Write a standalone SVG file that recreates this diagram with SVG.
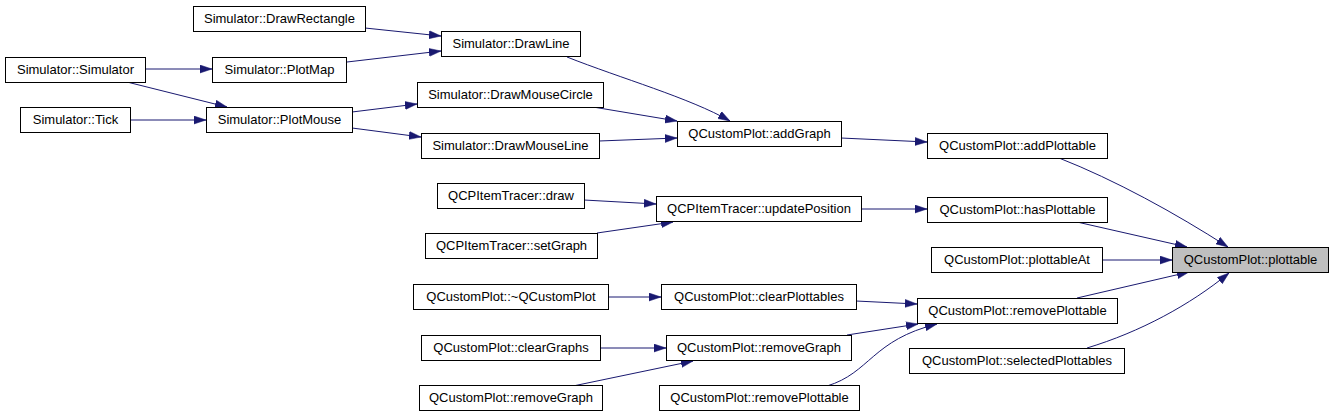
<svg xmlns="http://www.w3.org/2000/svg" width="1335" height="417" viewBox="0 0 1335 417">
<style>
.n rect{fill:#fff;stroke:#000;stroke-width:1}
.n.hl rect{fill:#bfbfbf}
.n text{font-family:"Liberation Sans",Arial,sans-serif;font-size:13px;text-anchor:middle;fill:#000}
.e path{fill:none;stroke:#191970;stroke-width:1;marker-end:url(#ah)}
</style>
<defs>
<marker id="ah" viewBox="0 0 12 9" refX="12" refY="4.5" markerWidth="12" markerHeight="9" orient="auto" markerUnits="userSpaceOnUse">
<polygon points="0,0.5 12,4.5 0,8.5" fill="#191970" stroke="#191970" stroke-width="0.5"/>
</marker>
</defs>
<rect width="1335" height="417" fill="#fff"/>
<g id="edges" class="e">
<path d="M365,28 L441,36"/>
<path d="M347,62 L441,51"/>
<path d="M145,69 L212,69"/>
<path d="M127,82 L227,107"/>
<path d="M130,120 L206,120"/>
<path d="M352,112 L417,104"/>
<path d="M352,128 L421,137"/>
<path d="M567,57 C620,78 690,98 730,121"/>
<path d="M593,107 L677,121"/>
<path d="M599,141 L677,138"/>
<path d="M841,138 L927,142"/>
<path d="M1059,158 C1115,180 1175,213 1228,247"/>
<path d="M584,200 L656,204"/>
<path d="M597,233 L673,222"/>
<path d="M861,209 L927,209"/>
<path d="M1077,222 L1187,247"/>
<path d="M1102,260 L1172,260"/>
<path d="M608,297 L661,297"/>
<path d="M856,301 L917,304"/>
<path d="M600,348 L666,348"/>
<path d="M573,386 L693,361"/>
<path d="M847,335 L918,324"/>
<path d="M827,386 C870,373 872,340 937,324"/>
<path d="M1077,298 L1189,272"/>
<path d="M1087,348 C1140,332 1190,305 1229,273"/>
</g>
<g id="n_drawrect" class="n"><rect x="193.5" y="6.5" width="172" height="25"/><text x="279.5" y="23">Simulator::DrawRectangle</text></g>
<g id="n_simulator" class="n"><rect x="5.5" y="57.5" width="140" height="25"/><text x="75.5" y="74">Simulator::Simulator</text></g>
<g id="n_plotmap" class="n"><rect x="212.5" y="57.5" width="134" height="25"/><text x="279.5" y="74">Simulator::PlotMap</text></g>
<g id="n_tick" class="n"><rect x="20.5" y="107.5" width="110" height="25"/><text x="75.5" y="124">Simulator::Tick</text></g>
<g id="n_plotmouse" class="n"><rect x="206.5" y="107.5" width="146" height="25"/><text x="279.5" y="124">Simulator::PlotMouse</text></g>
<g id="n_drawline" class="n"><rect x="441.5" y="31.5" width="139" height="25"/><text x="511" y="48">Simulator::DrawLine</text></g>
<g id="n_drawmousecircle" class="n"><rect x="417.5" y="82.5" width="186" height="25"/><text x="510.5" y="99">Simulator::DrawMouseCircle</text></g>
<g id="n_drawmouseline" class="n"><rect x="421.5" y="133.5" width="178" height="25"/><text x="510.5" y="150">Simulator::DrawMouseLine</text></g>
<g id="n_addgraph" class="n"><rect x="677.5" y="121.5" width="164" height="25"/><text x="759.5" y="138">QCustomPlot::addGraph</text></g>
<g id="n_tracerdraw" class="n"><rect x="437.5" y="183.5" width="147" height="25"/><text x="511" y="200">QCPItemTracer::draw</text></g>
<g id="n_updatepos" class="n"><rect x="656.5" y="196.5" width="205" height="25"/><text x="759" y="213">QCPItemTracer::updatePosition</text></g>
<g id="n_setgraph" class="n"><rect x="425.5" y="233.5" width="172" height="25"/><text x="511.5" y="250">QCPItemTracer::setGraph</text></g>
<g id="n_dtor" class="n"><rect x="413.5" y="284.5" width="195" height="25"/><text x="511" y="301">QCustomPlot::~QCustomPlot</text></g>
<g id="n_clearplottables" class="n"><rect x="661.5" y="284.5" width="195" height="25"/><text x="759" y="301">QCustomPlot::clearPlottables</text></g>
<g id="n_cleargraphs" class="n"><rect x="421.5" y="335.5" width="179" height="25"/><text x="511" y="352">QCustomPlot::clearGraphs</text></g>
<g id="n_removegraph_mid" class="n"><rect x="666.5" y="335.5" width="185" height="25"/><text x="759" y="352">QCustomPlot::removeGraph</text></g>
<g id="n_removegraph_left" class="n"><rect x="419.5" y="385.5" width="183" height="25"/><text x="511" y="402">QCustomPlot::removeGraph</text></g>
<g id="n_removeplottable_bot" class="n"><rect x="659.5" y="385.5" width="200" height="25"/><text x="759.5" y="402">QCustomPlot::removePlottable</text></g>
<g id="n_addplottable" class="n"><rect x="927.5" y="133.5" width="180" height="25"/><text x="1017.5" y="150">QCustomPlot::addPlottable</text></g>
<g id="n_hasplottable" class="n"><rect x="927.5" y="197.5" width="180" height="25"/><text x="1017.5" y="214">QCustomPlot::hasPlottable</text></g>
<g id="n_plottableat" class="n"><rect x="931.5" y="247.5" width="171" height="25"/><text x="1017" y="264">QCustomPlot::plottableAt</text></g>
<g id="n_plottable" class="n hl"><rect x="1172.5" y="247.5" width="156" height="25"/><text x="1250.5" y="264">QCustomPlot::plottable</text></g>
<g id="n_removeplottable_mid" class="n"><rect x="917.5" y="298.5" width="200" height="25"/><text x="1017.5" y="315">QCustomPlot::removePlottable</text></g>
<g id="n_selectedplottables" class="n"><rect x="909.5" y="348.5" width="215" height="25"/><text x="1017" y="365">QCustomPlot::selectedPlottables</text></g>
</svg>
